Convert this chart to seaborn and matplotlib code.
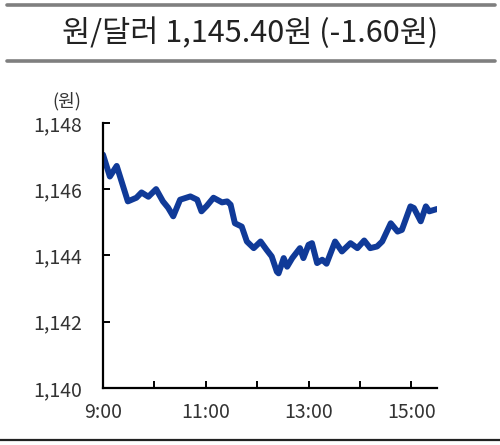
import matplotlib
matplotlib.use("Agg")
import matplotlib.pyplot as plt
import numpy as np
import pandas as pd
import seaborn as sns
from matplotlib.lines import Line2D

# minutes since 9:00 and KRW/USD rate
minutes = [0, 8, 16, 29, 39, 45, 53, 62, 70, 76, 82, 90, 102, 110, 115, 121,
           129, 139, 145, 149, 154, 162, 168, 176, 184, 191, 197, 203, 205,
           211, 215, 221, 230, 234, 240, 244, 250, 256, 261, 271, 279, 289,
           297, 305, 312, 320, 326, 336, 344, 349, 359, 363, 371, 377, 381, 390]
rates = [1147.04, 1146.38, 1146.70, 1145.63, 1145.74, 1145.90, 1145.77, 1146.00,
         1145.63, 1145.44, 1145.18, 1145.68, 1145.78, 1145.68, 1145.33, 1145.49,
         1145.74, 1145.60, 1145.63, 1145.53, 1144.97, 1144.87, 1144.42, 1144.22,
         1144.42, 1144.17, 1143.97, 1143.51, 1143.46, 1143.92, 1143.66, 1143.92,
         1144.22, 1143.92, 1144.32, 1144.37, 1143.77, 1143.87, 1143.75, 1144.42,
         1144.12, 1144.37, 1144.22, 1144.45, 1144.22, 1144.27, 1144.42, 1144.97,
         1144.72, 1144.77, 1145.48, 1145.43, 1145.03, 1145.48, 1145.33, 1145.40]

title = "원/달러 1,145.40원 (-1.60원)"
y_ticks = [1140, 1142, 1144, 1146, 1148]
y_labels = ["1,140", "1,142", "1,144", "1,146", "1,148"]
x_major = [0, 120, 240, 360]
x_labels = ["9:00", "11:00", "13:00", "15:00"]
x_minor = [60, 180, 300]

sns.set_theme(style="white")
plt.rcParams['font.family'] = ['Noto Sans CJK KR', 'DejaVu Sans']

df = pd.DataFrame({"min": minutes, "rate": rates})

fig = plt.figure(figsize=(5, 4.45), dpi=100)
ax = fig.add_axes([0.206, 0.128, 0.668, 0.596])
sns.lineplot(data=df, x="min", y="rate", ax=ax, color="#103a98", linewidth=4.3,
             solid_capstyle="round", solid_joinstyle="round")

ax.set_xlim(0, 390)
ax.set_ylim(1140, 1148)
ax.set_xticks(x_major)
ax.set_xticklabels(x_labels)
ax.set_xticks(x_minor, minor=True)
ax.set_yticks(y_ticks)
ax.set_yticklabels(y_labels)
ax.set_xlabel("")
ax.set_ylabel("")
for s in ["top", "right"]:
    ax.spines[s].set_visible(False)
for s in ["left", "bottom"]:
    ax.spines[s].set_color("black")
    ax.spines[s].set_linewidth(1.6)
ax.tick_params(axis="both", which="both", direction="in", length=5, width=1.4,
               color="black", labelsize=14, labelcolor="#333333")
ax.tick_params(axis="x", which="both", bottom=True, pad=10)
ax.tick_params(axis="y", left=True, pad=15)

ax.text(-0.108, 1.08, "(원)", transform=ax.transAxes, fontsize=13,
        color="#333333", ha="center", va="center")

# header with gray rules and bottom black rule
fig.add_artist(Line2D([0.014, 0.99], [0.989, 0.989], color="#7f7f7f", lw=2.6))
fig.add_artist(Line2D([0.014, 0.99], [0.863, 0.863], color="#7f7f7f", lw=2.6))
fig.add_artist(Line2D([0.0, 1.0], [0.011, 0.011], color="#222222", lw=1.6))
fig.text(0.5, 0.926, title, ha="center", va="center", fontsize=22, color="#222222")

fig.savefig("out.png", dpi=100)
